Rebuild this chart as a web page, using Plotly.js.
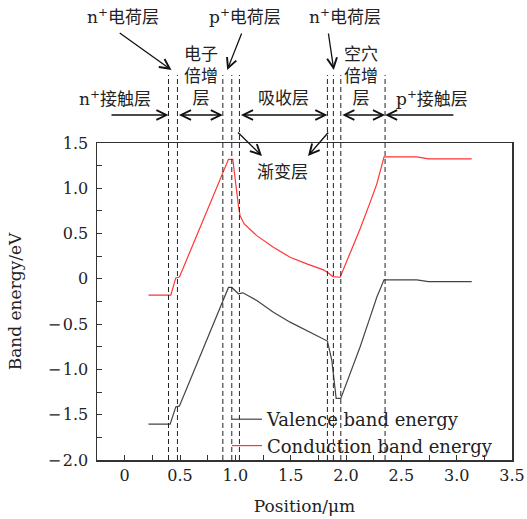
<!DOCTYPE html>
<html><head><meta charset="utf-8">
<script src="https://cdn.plot.ly/plotly-3.0.1.min.js"></script>
<style>body{margin:0;padding:0;background:#fff}#chart{width:527px;height:519px}</style>
</head><body><div id="chart"></div>
<script>
// ---- data ----
const seriesNames = ['Valence band energy', 'Conduction band energy'];
const positionValence = [0.215, 0.411, 0.462, 0.495, 0.938, 0.968, 1.028, 1.068, 1.194, 1.344, 1.495, 1.646, 1.832, 1.872, 1.893, 1.911, 1.953, 2.037, 2.127, 2.218, 2.278, 2.344, 2.64, 2.744, 3.136];
const valenceEnergy   = [-1.605, -1.605, -1.414, -1.403, -0.095, -0.095, -0.165, -0.154, -0.239, -0.368, -0.478, -0.569, -0.687, -0.9, -1.12, -1.32, -1.32, -1.046, -0.753, -0.423, -0.203, -0.011, -0.011, -0.03, -0.03];
const positionConduction = [0.215, 0.417, 0.462, 0.495, 0.938, 0.977, 1.028, 1.043, 1.08, 1.194, 1.344, 1.495, 1.646, 1.796, 1.832, 1.881, 1.947, 2.037, 2.127, 2.218, 2.278, 2.344, 2.64, 2.744, 3.136];
const conductionEnergy   = [-0.18, -0.18, 0.01, 0.02, 1.32, 1.32, 0.807, 0.697, 0.606, 0.477, 0.348, 0.238, 0.165, 0.099, 0.073, 0.025, 0.018, 0.275, 0.55, 0.844, 1.046, 1.347, 1.347, 1.325, 1.325];
const layerBoundaries = [0.396, 0.477, 0.887, 0.968, 1.037, 1.832, 1.886, 1.953, 2.353];
const xTickVals = [0, 0.5, 1, 1.5, 2, 2.5, 3, 3.5];
const xTickText = ['0', '0.5', '1.0', '1.5', '2.0', '2.5', '3.0', '3.5'];
const yTickVals = [-2, -1.5, -1, -0.5, 0, 0.5, 1, 1.5];
const yTickText = ['\u2212\u200A2.0', '\u2212\u200A1.5', '\u2212\u200A1.0', '\u2212\u200A0.5', '0', '0.5', '1.0', '1.5'];
const layerLabels = ['n<sup>+</sup>电荷层', 'p<sup>+</sup>电荷层', 'n<sup>+</sup>电荷层', '电子<br>倍增<br>层', '空穴<br>倍增<br>层', 'n<sup>+</sup>接触层', '吸收层', 'p<sup>+</sup>接触层', '渐变层'];

// ---- geometry ----
const L = 97, T = 143, W = 415, H = 317, R = 527 - L - W, B = 519 - T - H;
const px = v => (v - L) / W;
const py = v => (T + H - v) / H;
const serif = 'DejaVu Serif, Liberation Serif, serif';
const cjk = 'DejaVu Serif, Noto Sans CJK SC, serif';
const axisColor = '#333';

const traces = [
  {x: positionValence, y: valenceEnergy, name: seriesNames[0], type: 'scatter', mode: 'lines',
   line: {color: '#444', width: 1.2}},
  {x: positionConduction, y: conductionEnergy, name: seriesNames[1], type: 'scatter', mode: 'lines',
   line: {color: '#ff3535', width: 1.2}}
];

const shapes = layerBoundaries.map(b => ({
  type: 'line', xref: 'x', yref: 'paper', x0: b, x1: b, y0: 0, y1: py(75),
  line: {color: '#222', width: 1, dash: '5px,3px'}, layer: 'above'
}));

const textAt = (t, xp, yp) => ({text: t, xref: 'paper', yref: 'paper', x: px(xp), y: py(yp),
  showarrow: false, xanchor: 'center', yanchor: 'middle', font: {family: cjk, size: 17, color: '#222'}});
const annotations = [
  textAt(layerLabels[0], 122.5, 16),
  textAt(layerLabels[1], 245, 16),
  textAt(layerLabels[2], 344.5, 16),
  textAt(layerLabels[3], 200.5, 76),
  textAt(layerLabels[4], 360.8, 76),
  textAt(layerLabels[5], 114.5, 98),
  textAt(layerLabels[6], 283.5, 98),
  textAt(layerLabels[7], 431.5, 98),
  textAt(layerLabels[8], 282, 172)
];
const arrowStyle = {showarrow: true, arrowhead: 5, startarrowhead: 5, arrowsize: 1.5, startarrowsize: 1.5,
  arrowwidth: 1.3, arrowcolor: '#111', text: '', standoff: 0, startstandoff: 0};
// horizontal arrows along the layer boundaries
const hy = py(115);
const hArrow = (tipX, tailX, both) => Object.assign({}, arrowStyle, {
  xref: 'x', axref: 'x', x: tipX, ax: tailX, yref: 'paper', ayref: 'pixel', y: hy, ay: 0,
  arrowside: both ? 'end+start' : 'end'});
const xScale = W / 3.75;
annotations.push(
  hArrow(layerBoundaries[0], layerBoundaries[0] - (168.3 - 109.8) / xScale, false),
  hArrow(layerBoundaries[2], layerBoundaries[1], true),
  hArrow(layerBoundaries[5], layerBoundaries[4], true),
  hArrow(layerBoundaries[8], layerBoundaries[7], true),
  hArrow(layerBoundaries[8], layerBoundaries[8] + (454.8 - 385) / xScale, false)
);
// diagonal pointer arrows (tip, tail) in pixels
const dArrow = (tx, ty, sx, sy) => Object.assign({}, arrowStyle, {
  xref: 'paper', yref: 'paper', x: px(tx), y: py(ty), ax: sx - tx, ay: sy - ty, arrowside: 'end'});
annotations.push(
  dArrow(171.5, 70, 118.2, 32),
  dArrow(227.2, 70, 242.2, 32),
  dArrow(333.8, 70, 328.2, 32),
  dArrow(262, 156, 236.5, 131),
  dArrow(308, 156, 329.5, 131)
);

const axisCommon = {
  showline: true, mirror: true, linecolor: axisColor, linewidth: 1.5,
  ticks: 'inside', ticklen: 5, tickwidth: 1, tickcolor: axisColor,
  showgrid: false, zeroline: false, tickmode: 'array',
  tickfont: {family: serif, size: 16, color: '#222'}
};

const layout = {
  width: 527, height: 519,
  margin: {l: L, r: R, t: T, b: B, pad: 0},
  paper_bgcolor: '#fff', plot_bgcolor: '#fff',
  showlegend: true,
  legend: {x: px(227), y: py(401), xanchor: 'left', yanchor: 'top', bgcolor: 'rgba(0,0,0,0)',
           font: {family: serif, size: 18, color: '#222'}, tracegroupgap: 0},
  xaxis: Object.assign({}, axisCommon, {range: [-0.25, 3.5], tickvals: xTickVals, ticktext: xTickText,
    minor: {dtick: 0.25, tick0: 0, ticks: 'inside', ticklen: 5, tickcolor: axisColor, showgrid: false},
    title: {text: 'Position/μm', font: {family: serif, size: 17, color: '#222'}, standoff: 16}}),
  yaxis: Object.assign({}, axisCommon, {range: [-2, 1.5], tickvals: yTickVals, ticktext: yTickText,
    ticklabelstandoff: 4,
    minor: {dtick: 0.25, tick0: 0, ticks: 'inside', ticklen: 5, tickcolor: axisColor, showgrid: false},
    title: {text: 'Band energy/eV', font: {family: serif, size: 17, color: '#222'}, standoff: 22}}),
  shapes: shapes,
  annotations: annotations
};

Plotly.newPlot('chart', traces, layout, {displayModeBar: false, staticPlot: true});
</script></body></html>
